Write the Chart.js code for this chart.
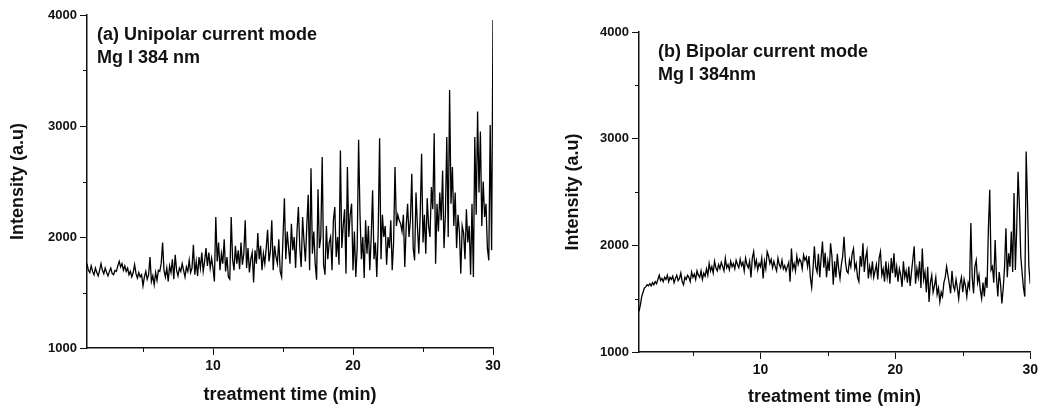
<!DOCTYPE html>
<html>
<head>
<meta charset="utf-8">
<script src="https://cdn.jsdelivr.net/npm/chart.js@4.4.1/dist/chart.umd.min.js"></script>
<style>
    html, body { margin: 0; padding: 0; background: #fff; }
    #wrap { position: relative; width: 1041px; height: 408px; }
    canvas { position: absolute; top: 0; }
    #chartA { left: 0; }
    #chartB { left: 520px; }
</style>
</head>
<body>
<div id="wrap">
    <canvas id="chartA" width="520" height="408"></canvas>
    <canvas id="chartB" width="521" height="408"></canvas>
</div>
<script>
// sampling of both traces: t = 1.0, 1.1, ... 30.0 min
const timeStart = 1;
const timeStep = 0.1;

// (a) unipolar current mode, Mg I 384 nm
const intensityA = [
    1760, 1700, 1680, 1740, 1690, 1660, 1720, 1680, 1650, 1700,
    1760, 1700, 1670, 1720, 1680, 1650, 1690, 1720, 1670, 1660,
    1700, 1690, 1740, 1780, 1730, 1760, 1700, 1740, 1690, 1720,
    1660, 1690, 1640, 1680, 1750, 1670, 1630, 1680, 1640, 1660,
    1560, 1640, 1690, 1620, 1660, 1820, 1600, 1650, 1570, 1680,
    1610, 1700, 1690, 1760, 1950, 1700, 1640, 1720, 1600, 1740,
    1680, 1800, 1620, 1840, 1700, 1650, 1720, 1690, 1760, 1700,
    1640, 1730, 1690, 1790, 1680, 1720, 1930, 1660, 1780, 1650,
    1820, 1720, 1860, 1690, 1780, 1900, 1740, 1860, 1720, 1810,
    1720, 1600, 2180, 1780, 1950, 1700, 1850, 1760, 1980, 1690,
    1820, 1640, 1620, 2180, 1800, 1700, 1920, 1760, 1880, 1710,
    1950, 1750, 1850, 2150, 1720, 1900, 1680, 1800, 1860, 1590,
    1880, 1760, 2035, 1800, 1920, 1700, 1850, 1760, 1900, 2065,
    1780, 1870, 2150, 1700, 1920, 1820, 1760, 1980, 1690, 1640,
    2000, 2350, 1800, 2050, 1900, 1760, 2120, 1880, 2000, 1720,
    2050, 2270, 1900, 1730, 2180, 1960, 1780, 2100, 2380, 1700,
    2620, 1850, 2050, 1760, 1615, 2430, 1900, 2000, 2720, 1750,
    1660, 2100, 1800, 1950, 2000, 1700, 2150, 2270, 1820, 2000,
    1750, 2780, 1900, 2100, 2250, 1670, 2630, 2000, 2200, 2300,
    1700, 2050, 1640, 1900, 2875, 2200, 1800, 2000, 1630, 2150,
    1850, 2100, 1700, 2000, 2420, 1800, 1950, 1640, 2050, 2890,
    1800, 2200, 2000, 2100, 1750, 2000, 1900, 2150, 1700, 1950,
    2630, 2100, 2200, 2150, 2120, 2050, 2200, 1730, 2100, 2300,
    2000, 2150, 2570, 1900, 1790, 2400, 2100, 1850, 2200, 2750,
    1950, 2200, 1850, 2350, 2100, 2000, 2450, 2250, 2935, 1760,
    2300, 2050, 2400, 2150, 2600, 1900, 2200, 2900, 2000, 3325,
    2300, 2630, 2100, 2400, 1900, 2200, 2050, 1670, 2100, 2035,
    1800, 2250, 1950, 2100, 1660, 2300, 1640, 2900, 2200, 3130,
    2400, 2950, 2100, 2500, 2180, 2300, 1900, 1790, 3010, 1880,
    3955
];

// (b) bipolar current mode, Mg I 384nm
const intensityB = [
    1380, 1440, 1520, 1560, 1600, 1610, 1630, 1620, 1640, 1620,
    1650, 1630, 1660, 1640, 1680, 1720, 1670, 1690, 1660, 1700,
    1680, 1720, 1660, 1700, 1680, 1710, 1650, 1690, 1720, 1670,
    1690, 1740, 1660, 1630, 1700, 1680, 1720, 1700, 1660, 1750,
    1700, 1730, 1680, 1760, 1720, 1700, 1760, 1680, 1740, 1710,
    1780, 1720, 1830, 1760, 1800, 1740, 1850, 1790, 1760, 1820,
    1780, 1840, 1800, 1760, 1880, 1790, 1820, 1770, 1850, 1800,
    1830, 1780, 1860, 1820, 1790, 1870, 1810, 1840, 1760, 1880,
    1820, 1790, 1850, 1700, 1880, 1940, 1800, 1860, 1770, 1830,
    1800, 1880, 1690, 1850, 1780, 1940, 1900, 1830, 1870, 1790,
    1850, 1800, 1760, 1880, 1820, 1790, 1860, 1780, 1810, 1760,
    1800, 1840, 1660, 1970, 1780, 1830, 1760, 1900, 1820, 1870,
    1850, 1780, 1910, 1860, 1890, 1800, 1900, 1700, 1605, 1780,
    1990, 1800, 1750, 1920, 1700, 1880, 2035, 1790, 1930, 1700,
    1850, 1760, 2020, 1900, 1630, 1850, 1700, 1920, 1780, 1690,
    1820, 1900, 2080, 1850, 1760, 1740, 1860, 1800, 1920, 1970,
    1780, 1830, 1700, 1660, 1900, 1800, 2020, 1750, 1880, 1950,
    1690, 1800, 1720, 1850, 1700, 1760, 1820, 1680, 1880, 1940,
    1720, 1780, 1660, 1850, 1700, 1800, 1640, 1880, 1740, 1925,
    1700, 1800, 1660, 1780, 1720, 1610, 1850, 1700, 1760, 1650,
    1800, 1620, 1750, 1870, 1990, 1640, 1780, 1700, 1850, 1600,
    1970, 1680, 1750, 1560, 1800, 1470, 1650, 1720, 1560, 1620,
    1700, 1540, 1600, 1470, 1560, 1520, 1650, 1700, 1800, 1720,
    1640, 1550, 1760, 1620, 1580, 1680, 1600, 1500, 1640, 1700,
    1560, 1680, 1620, 1520, 1650, 1600, 2210, 1700, 1550, 1800,
    1860, 1650, 1720, 1580, 1500, 1650, 1520, 1700, 1600, 2160,
    2520, 1770, 1800, 1650, 2050, 1700, 1520, 1750, 1640, 1455,
    1600, 1800, 2160, 1700, 1925, 1800, 2130, 1750, 2490, 1770,
    2160, 2690, 2360, 1900, 1740, 1600, 1520, 2880, 2390, 1800,
    1640
];

const xTicks = [10, 20, 30];
const xMinorTicks = [5, 15, 25];
const yTicks = [1000, 2000, 3000, 4000];
const yMinorTicks = [1500, 2500, 3500];

const FONT = 'Liberation Sans, Arial, sans-serif';
const INK = '#111';

function toPoints(values) {
    return values.map((v, i) => ({ x: +(timeStart + i * timeStep).toFixed(2), y: v }));
}

// short outward ticks for 5/15/25 and 1500/2500/3500
const minorTicksPlugin = {
    id: 'minorTicks',
    afterDraw(chart) {
        const { ctx, chartArea, scales } = chart;
        ctx.save();
        ctx.strokeStyle = INK;
        ctx.lineWidth = 1;
        ctx.beginPath();
        xMinorTicks.forEach(v => {
            const px = Math.round(scales.x.getPixelForValue(v)) + 0.5;
            ctx.moveTo(px, chartArea.bottom);
            ctx.lineTo(px, chartArea.bottom + 4);
        });
        yMinorTicks.forEach(v => {
            const py = Math.round(scales.y.getPixelForValue(v)) + 0.5;
            ctx.moveTo(chartArea.left, py);
            ctx.lineTo(chartArea.left - 4, py);
        });
        ctx.stroke();
        ctx.restore();
    }
};

// two-line label inside the plot
const notePlugIn = {
    id: 'note',
    afterDraw(chart, args, opts) {
        const { ctx, chartArea } = chart;
        ctx.save();
        ctx.fillStyle = INK;
        ctx.font = 'bold 18px ' + FONT;
        ctx.textBaseline = 'alphabetic';
        opts.lines.forEach((line, i) => {
            ctx.fillText(line, chartArea.left + opts.dx, chartArea.top + opts.dy + i * 23);
        });
        ctx.restore();
    }
};

function renderPanel(canvasId, values, lines, box) {
    const ctx = document.getElementById(canvasId).getContext('2d');
    return new Chart(ctx, {
        type: 'line',
        data: {
            datasets: [{
                data: toPoints(values),
                borderColor: '#000',
                borderWidth: 1.3,
                pointRadius: 0,
                tension: 0,
                fill: false
            }]
        },
        options: {
            responsive: false,
            animation: false,
            layout: { padding: { left: box.padLeft, top: box.top, right: box.right, bottom: 0 } },
            plugins: {
                legend: { display: false },
                tooltip: { enabled: false },
                note: { lines: lines, dx: box.noteDx, dy: box.noteDy }
            },
            scales: {
                x: {
                    type: 'linear',
                    min: 1,
                    max: 30,
                    afterBuildTicks: scale => { scale.ticks = xTicks.map(v => ({ value: v })); },
                    afterFit: scale => { scale.height = box.xHeight; },
                    grid: { drawOnChartArea: false, drawTicks: true, tickLength: 7, tickColor: INK },
                    border: { color: INK, width: 1.5 },
                    ticks: {
                        color: INK, padding: 3, maxRotation: 0,
                        font: { family: FONT, size: 14, weight: 'bold' },
                        callback: v => String(v)
                    },
                    title: {
                        display: true,
                        text: 'treatment time (min)',
                        color: INK,
                        padding: { top: 0, bottom: box.xTitlePad },
                        font: { family: FONT, size: 18, weight: 'bold' }
                    }
                },
                y: {
                    min: 1000,
                    max: 4000,
                    afterBuildTicks: scale => { scale.ticks = yTicks.map(v => ({ value: v })); },
                    afterFit: scale => { scale.width = box.yWidth; },
                    grid: { drawOnChartArea: false, drawTicks: true, tickLength: 7, tickColor: INK },
                    border: { color: INK, width: 1.5 },
                    ticks: {
                        color: INK, padding: 3,
                        font: { family: FONT, size: 13, weight: 'bold' },
                        callback: v => String(v)
                    },
                    title: {
                        display: true,
                        text: 'Intensity (a.u)',
                        color: INK,
                        padding: { top: 0, bottom: 0 },
                        font: { family: FONT, size: 18, weight: 'bold' }
                    }
                }
            }
        },
        plugins: [minorTicksPlugin, notePlugIn]
    });
}

renderPanel('chartA', intensityA, ['(a) Unipolar current mode', 'Mg I 384 nm'], {
    padLeft: 7, yWidth: 80, top: 15, right: 27, xHeight: 60, xTitlePad: 2, noteDx: 10, noteDy: 25
});

renderPanel('chartB', intensityB, ['(b) Bipolar current mode', 'Mg I 384nm'], {
    padLeft: 42, yWidth: 77, top: 32, right: 9, xHeight: 56, xTitlePad: 0, noteDx: 19, noteDy: 25
});
</script>
</body>
</html>
